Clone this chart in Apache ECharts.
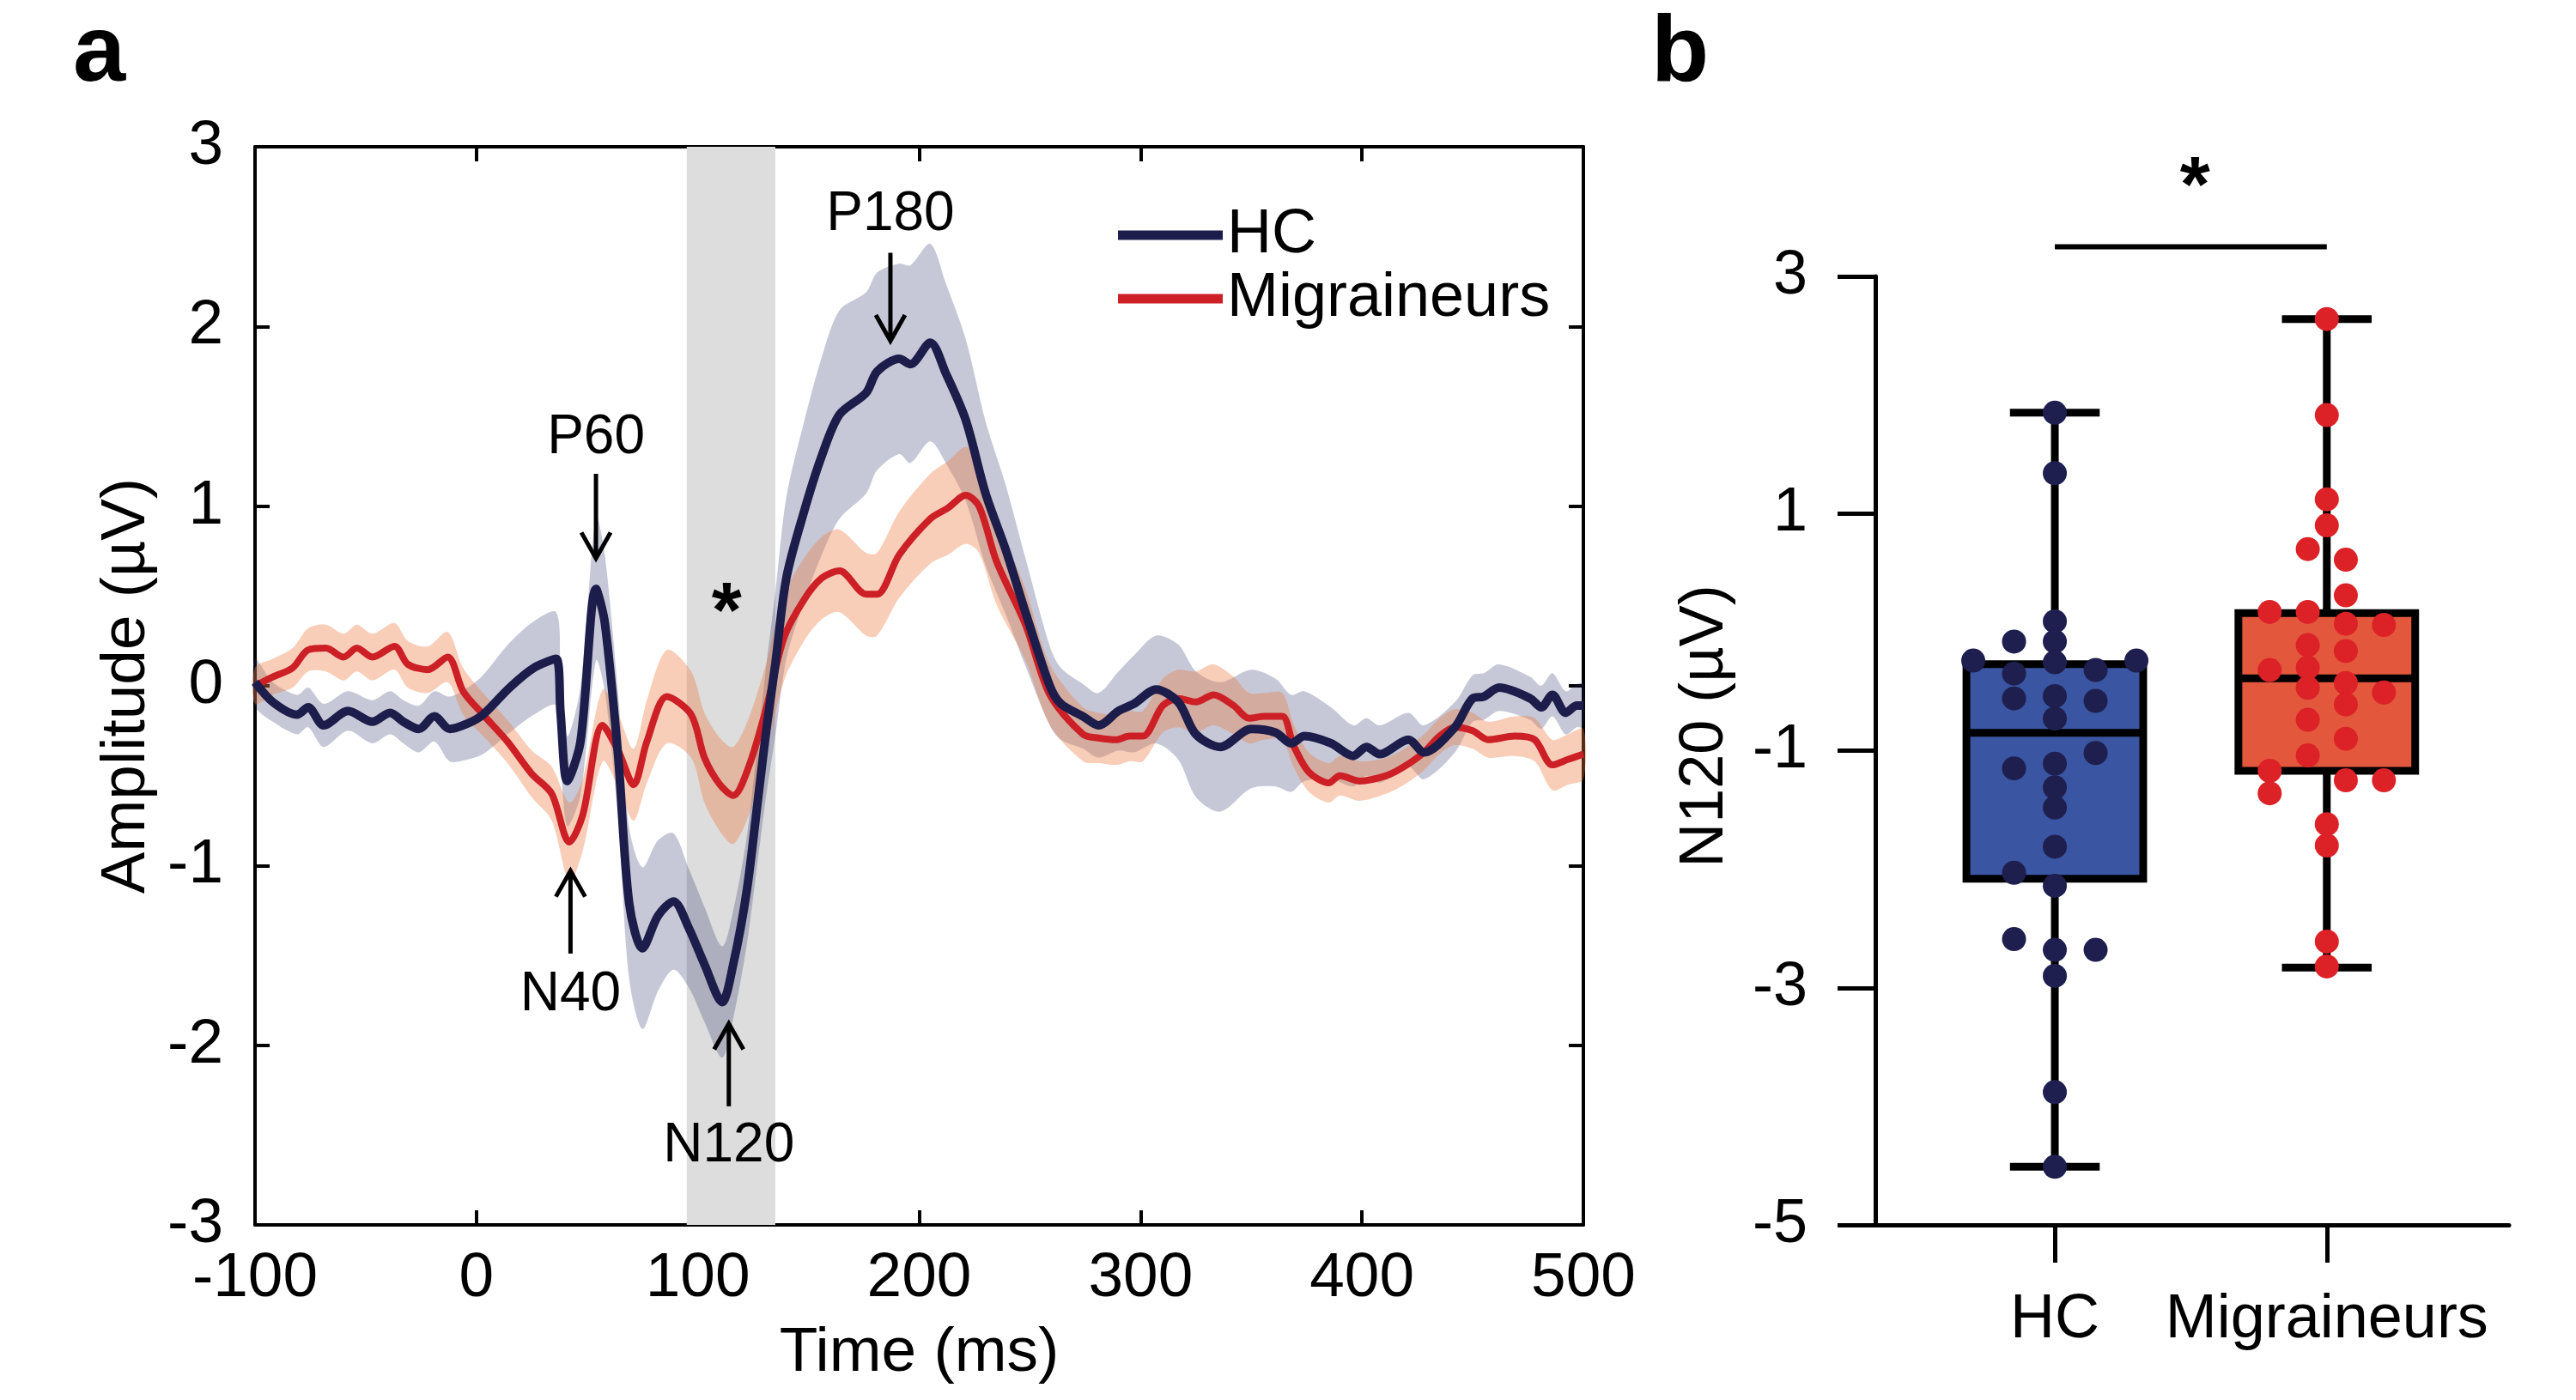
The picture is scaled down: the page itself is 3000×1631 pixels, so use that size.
<!DOCTYPE html>
<html>
<head>
    <meta charset="UTF-8">
    <title>N120 HC vs Migraineurs</title>
    <script src="https://cdn.jsdelivr.net/npm/echarts@6.0.0/dist/echarts.min.js"></script>
    <style>
        html, body { margin: 0; padding: 0; background: #fff; }
        #chart { width: 3000px; height: 1631px; }
    </style>
</head>
<body>
<div id="chart"></div>
<script>
    // ---- panel a: grand average waveforms (ms, µV) ----
    var hcTime = [-100, -92, -81, -76, -69, -58, -47, -39, -33, -26, -19, -12, -4, 3, 15, 26, 36, 38, 41, 47,
        54, 58, 64, 69, 75, 82, 89, 96, 103, 111, 116, 122, 127, 131, 135, 140, 148, 156, 164, 176,
        181, 191, 196, 205, 212, 221, 230, 239, 248, 259, 264, 274, 281, 290, 297, 307, 317, 325, 336, 350,
        361, 368, 374, 386, 396, 402, 408, 421, 428, 442, 450, 455, 462, 476, 481, 486, 492, 497, 500];
    var hcMean = [0.02, -0.09, -0.16, -0.12, -0.22, -0.14, -0.2, -0.15, -0.2, -0.24, -0.17, -0.24, -0.21, -0.16, -0.01, 0.1, 0.15, -0.15, -0.53, -0.31,
        0.54, 0.35, -0.39, -1.21, -1.46, -1.28, -1.2, -1.35, -1.55, -1.76, -1.55, -1.15, -0.65, -0.24, 0.12, 0.6, 0.97, 1.28, 1.51, 1.63,
        1.75, 1.82, 1.79, 1.91, 1.74, 1.48, 1.07, 0.76, 0.41, 0.0, -0.1, -0.17, -0.22, -0.14, -0.1, -0.02, -0.09, -0.27, -0.34, -0.24,
        -0.26, -0.32, -0.28, -0.32, -0.39, -0.34, -0.38, -0.3, -0.37, -0.23, -0.07, -0.06, -0.01, -0.07, -0.12, -0.05, -0.15, -0.11, -0.11];
    var hcErr = [0.13, 0.11, 0.11, 0.11, 0.12, 0.11, 0.12, 0.12, 0.12, 0.13, 0.14, 0.18, 0.2, 0.22, 0.25, 0.26, 0.26, 0.26, 0.25, 0.3,
        0.4, 0.38, 0.35, 0.42, 0.45, 0.42, 0.38, 0.33, 0.32, 0.31, 0.3, 0.3, 0.33, 0.36, 0.4, 0.45, 0.5, 0.55, 0.58, 0.56,
        0.55, 0.53, 0.55, 0.55, 0.5, 0.45, 0.4, 0.36, 0.3, 0.22, 0.2, 0.18, 0.18, 0.22, 0.27, 0.3, 0.32, 0.35, 0.36, 0.33,
        0.3, 0.27, 0.25, 0.2, 0.17, 0.16, 0.16, 0.15, 0.15, 0.14, 0.13, 0.13, 0.13, 0.12, 0.12, 0.12, 0.12, 0.12, 0.12];

    var migTime = [-100, -92, -83, -76, -68, -60, -54, -47, -37, -31, -22, -13, -6, 3, 14, 25, 34, 42, 48, 57,
        64, 71, 77, 86, 97, 103, 110, 116, 123, 131, 139, 148, 156, 164, 176, 181, 191, 205, 213, 221,
        227, 235, 248, 259, 274, 281, 289, 295, 301, 310, 317, 325, 333, 342, 349, 356, 364, 369, 376, 385,
        390, 399, 411, 419, 428, 435, 442, 450, 457, 469, 478, 486, 493, 500];
    var migMean = [0.0, 0.05, 0.1, 0.2, 0.21, 0.16, 0.21, 0.16, 0.22, 0.12, 0.09, 0.16, -0.03, -0.16, -0.31, -0.49, -0.6, -0.87, -0.72, -0.22,
        -0.36, -0.55, -0.31, -0.06, -0.16, -0.4, -0.55, -0.61, -0.45, -0.12, 0.27, 0.48, 0.6, 0.64, 0.51, 0.51, 0.73, 0.93, 0.99, 1.06,
        1.0, 0.69, 0.34, -0.05, -0.27, -0.29, -0.3, -0.28, -0.28, -0.11, -0.07, -0.09, -0.05, -0.11, -0.18, -0.17, -0.17, -0.33, -0.48, -0.54,
        -0.5, -0.53, -0.5, -0.45, -0.37, -0.28, -0.23, -0.25, -0.3, -0.28, -0.3, -0.44, -0.41, -0.38];
    var migErr = [0.1, 0.1, 0.11, 0.12, 0.13, 0.13, 0.13, 0.13, 0.13, 0.13, 0.13, 0.14, 0.13, 0.12, 0.12, 0.13, 0.15, 0.22, 0.2, 0.2,
        0.2, 0.2, 0.23, 0.26, 0.24, 0.25, 0.26, 0.27, 0.27, 0.25, 0.24, 0.23, 0.23, 0.23, 0.23, 0.23, 0.24, 0.25, 0.26, 0.27,
        0.26, 0.24, 0.2, 0.17, 0.15, 0.14, 0.14, 0.14, 0.14, 0.15, 0.16, 0.17, 0.17, 0.16, 0.14, 0.13, 0.13, 0.12, 0.11, 0.11,
        0.11, 0.11, 0.1, 0.1, 0.1, 0.1, 0.1, 0.1, 0.1, 0.11, 0.12, 0.14, 0.14, 0.14];

    var sigWindow = [95, 135];          // shaded N120 window (ms)
    var ampRange = [-3, 3];

    // peak labels with their arrows
    var noteLabels = ['P60', 'N40', 'N120', 'P180'];
    var noteTime = [54, 42.5, 114, 187];
    var noteTextY = [1.38, -1.72, -2.56, 2.62];
    var arrowFrom = [1.18, -1.49, -2.34, 2.41];
    var arrowTo = [0.71, -1.03, -1.88, 1.92];
    var starA = [113, 0.48];

    // ---- panel b: N120 amplitude per subject (µV) ----
    var groups = ['HC', 'Migraineurs'];
    var bTicks = [-5, -3, -1, 1, 3];
    // min, Q1, median, Q3, max
    var hcBox = [-4.51, -2.08, -0.85, -0.27, 1.85];
    var migBox = [-2.83, -1.17, -0.39, 0.16, 2.64];
    var hcDots = [1.85, 1.34, 0.09, -0.08, -0.08, -0.24, -0.24, -0.255, -0.35, -0.32,
        -0.56, -0.54, -0.58, -0.73, -1.02, -1.11, -1.15, -1.31, -1.48, -1.81,
        -2.03, -2.14, -2.59, -2.68, -2.68, -2.9, -3.88, -4.51];
    var hcJitter = [0, 0, 0, -0.15, 0, -0.3, 0.3, 0, -0.15, 0.15,
        -0.15, 0, 0.15, 0, 0.15, 0, -0.15, 0, 0, 0,
        -0.15, 0, -0.15, 0, 0.15, 0, 0, 0];
    var migDots = [2.64, 1.83, 1.12, 0.9, 0.7, 0.61, 0.31, 0.17, 0.17, 0.07,
        0.06, -0.11, -0.16, -0.32, -0.3, -0.47, -0.43, -0.51, -0.61, -0.74,
        -0.9, -1.04, -1.17, -1.25, -1.25, -1.36, -1.62, -1.8, -2.61, -2.82];
    var migJitter = [0, 0, 0, 0, -0.07, 0.07, 0.07, -0.21, -0.07, 0.07,
        0.21, -0.07, 0.07, -0.21, -0.07, -0.07, 0.07, 0.21, 0.07, -0.07,
        0.07, -0.07, -0.21, 0.07, 0.21, -0.21, 0, 0, 0, 0];
    var sigBar = [1, 2, 3.25];          // from group, to group, height
    var starB = [1.515, 3.87];

    var FONT = '"Liberation Sans", Arial, Helvetica, sans-serif';
    var NAVY = '#1c1d4a';
    var RED = '#cc1f26';
    var boxFill = ['#3a55a1', '#e3583d'];

    function zip() {
        var arrs = arguments;
        return arrs[0].map(function (_, i) {
            return Array.prototype.map.call(arrs, function (a) { return a[i]; });
        });
    }

    function bandRows(t, m, e) {
        return zip(t, m.map(function (v, i) { return v - e[i]; }), m.map(function (v, i) { return v + e[i]; }));
    }

    function bandRenderer(rows, fill) {
        return function (params, api) {
            if (params.dataIndex !== 0) return;
            var upper = rows.map(function (r) { return api.coord([r[0], r[2]]); });
            var lower = rows.map(function (r) { return api.coord([r[0], r[1]]); }).reverse();
            return {type: 'polygon', shape: {points: upper.concat(lower), smooth: 0.3}, style: {fill: fill}};
        };
    }

    function windowRenderer(params, api) {
        var p0 = api.coord([api.value(0), ampRange[1]]);
        var p1 = api.coord([api.value(1), ampRange[0]]);
        return {type: 'rect', shape: {x: p0[0], y: p0[1], width: p1[0] - p0[0], height: p1[1] - p0[1]},
            style: {fill: '#dddddd'}};
    }

    function noteRenderer(params, api) {
        var i = params.dataIndex;
        var t = noteTime[i];
        var txt = api.coord([t, noteTextY[i]]);
        var a0 = api.coord([t, arrowFrom[i]]);
        var a1 = api.coord([t, arrowTo[i]]);
        var dir = a1[1] > a0[1] ? 1 : -1;
        return {
            type: 'group', children: [
                {type: 'text', x: txt[0], y: txt[1],
                    style: {text: noteLabels[i], font: '64px ' + FONT, fill: '#000', align: 'center', verticalAlign: 'middle'}},
                {type: 'line', shape: {x1: a0[0], y1: a0[1], x2: a1[0], y2: a1[1]},
                    style: {stroke: '#000', lineWidth: 5}},
                {type: 'polyline', shape: {points: [[a1[0] - 17, a1[1] - dir * 30], [a1[0], a1[1]], [a1[0] + 17, a1[1] - dir * 30]]},
                    style: {stroke: '#000', lineWidth: 5, fill: null}}
            ]
        };
    }

    function starRenderer(params, api) {
        var p = api.coord([api.value(0), api.value(1)]);
        return {type: 'text', x: p[0], y: p[1] + 19,
            style: {text: '*', font: 'bold 90px ' + FONT, fill: '#000', align: 'center', verticalAlign: 'middle'}};
    }

    function boxRenderer(params, api) {
        var x = api.value(0);
        var lo = api.coord([x, api.value(1)]);
        var q1 = api.coord([x, api.value(2)]);
        var md = api.coord([x, api.value(3)]);
        var q3 = api.coord([x, api.value(4)]);
        var hi = api.coord([x, api.value(5)]);
        var hb = api.size([0.65, 0])[0] / 2;
        var hc = api.size([0.33, 0])[0] / 2;
        var st = {stroke: '#000', lineWidth: 9};
        return {
            type: 'group', children: [
                {type: 'line', shape: {x1: lo[0], y1: lo[1], x2: hi[0], y2: hi[1]}, style: st},
                {type: 'rect', shape: {x: q3[0] - hb, y: q3[1], width: 2 * hb, height: q1[1] - q3[1]},
                    style: {fill: boxFill[params.dataIndex], stroke: '#000', lineWidth: 9}},
                {type: 'line', shape: {x1: md[0] - hb, y1: md[1], x2: md[0] + hb, y2: md[1]}, style: st},
                {type: 'line', shape: {x1: hi[0] - hc, y1: hi[1], x2: hi[0] + hc, y2: hi[1]}, style: st},
                {type: 'line', shape: {x1: lo[0] - hc, y1: lo[1], x2: lo[0] + hc, y2: lo[1]}, style: st}
            ]
        };
    }

    function sigRenderer(params, api) {
        var p0 = api.coord([sigBar[0], sigBar[2]]);
        var p1 = api.coord([sigBar[1], sigBar[2]]);
        var s = api.coord(starB);
        return {
            type: 'group', children: [
                {type: 'line', shape: {x1: p0[0], y1: p0[1], x2: p1[0], y2: p1[1]}, style: {stroke: '#000', lineWidth: 6}},
                {type: 'text', x: s[0], y: s[1] + 19,
                    style: {text: '*', font: 'bold 90px ' + FONT, fill: '#000', align: 'center', verticalAlign: 'middle'}}
            ]
        };
    }

    var hcBand = bandRows(hcTime, hcMean, hcErr);
    var migBand = bandRows(migTime, migMean, migErr);

    var axisA = {
        axisLine: {onZero: false, lineStyle: {color: '#000', width: 4}},
        axisTick: {inside: true, length: 17, lineStyle: {color: '#000', width: 4}},
        splitLine: {show: false}
    };

    var option = {
        animation: false,
        textStyle: {fontFamily: FONT, color: '#000'},
        grid: [
            {left: 297, top: 171, width: 1547, height: 1256},
            {left: 2184, top: 322, width: 738, height: 1105}
        ],
        legend: {
            data: ['HC', 'Migraineurs'], orient: 'vertical', left: 1297, top: 232,
            icon: 'rect', itemWidth: 122, itemHeight: 11, itemGap: 0, selectedMode: false,
            lineStyle: {width: 11},
            textStyle: {fontSize: 72, lineHeight: 74, color: '#000', fontFamily: FONT}
        },
        xAxis: [
            Object.assign({}, axisA, {
                gridIndex: 0, type: 'value', min: -100, max: 500, interval: 100, position: 'bottom',
                axisLabel: {fontSize: 73, color: '#000', margin: 26, fontFamily: FONT},
                name: 'Time (ms)', nameLocation: 'middle', nameGap: 113,
                nameTextStyle: {fontSize: 73, color: '#000', fontFamily: FONT}
            }),
            Object.assign({}, axisA, {
                gridIndex: 0, type: 'value', min: -100, max: 500, interval: 100, position: 'top',
                axisLabel: {show: false}
            }),
            {
                gridIndex: 1, type: 'value', min: 0.34, max: 2.67, position: 'bottom',
                axisLine: {onZero: false, lineStyle: {color: '#000', width: 5}},
                axisTick: {customValues: [1, 2], length: 44, lineStyle: {color: '#000', width: 5}},
                axisLabel: {customValues: [1, 2], fontSize: 72, color: '#000', margin: 75, fontFamily: FONT,
                    formatter: function (v) { return groups[Math.round(v) - 1]; }},
                splitLine: {show: false}
            }
        ],
        yAxis: [
            Object.assign({}, axisA, {
                gridIndex: 0, type: 'value', min: ampRange[0], max: ampRange[1], interval: 1, position: 'left',
                axisLabel: {fontSize: 73, color: '#000', margin: 37, fontFamily: FONT},
                name: 'Amplitude (µV)', nameLocation: 'middle', nameGap: 113,
                nameTextStyle: {fontSize: 73, color: '#000', fontFamily: FONT}
            }),
            Object.assign({}, axisA, {
                gridIndex: 0, type: 'value', min: ampRange[0], max: ampRange[1], interval: 1, position: 'right',
                axisLabel: {show: false}
            }),
            {
                gridIndex: 1, type: 'value', min: -5, max: 3, position: 'left',
                axisLine: {onZero: false, lineStyle: {color: '#000', width: 5}},
                axisTick: {customValues: bTicks, length: 44, lineStyle: {color: '#000', width: 5}},
                axisLabel: {customValues: bTicks, fontSize: 72, color: '#000', margin: 79, fontFamily: FONT},
                splitLine: {show: false}
            }
        ],
        graphic: [
            {type: 'text', x: 85, y: 64, style: {text: 'a', font: 'bold 110px ' + FONT, fill: '#000', align: 'left', verticalAlign: 'middle'}},
            {type: 'text', x: 1923, y: 64, style: {text: 'b', font: 'bold 110px ' + FONT, fill: '#000', align: 'left', verticalAlign: 'middle'}},
            {type: 'text', x: 1986, y: 846, rotation: Math.PI / 2,
                style: {text: 'N120 (µV)', font: '72px ' + FONT, fill: '#000', align: 'center', verticalAlign: 'middle'}}
        ],
        series: [
            {type: 'custom', name: 'window', xAxisIndex: 0, yAxisIndex: 0, z: 1, silent: true,
                data: [sigWindow], renderItem: windowRenderer},
            {type: 'custom', name: 'HC band', xAxisIndex: 0, yAxisIndex: 0, z: 2, silent: true,
                data: hcBand, renderItem: bandRenderer(hcBand, 'rgba(40, 42, 100, 0.26)')},
            {type: 'custom', name: 'Migraineurs band', xAxisIndex: 0, yAxisIndex: 0, z: 2, silent: true,
                data: migBand, renderItem: bandRenderer(migBand, 'rgba(236, 120, 60, 0.36)')},
            {type: 'line', name: 'Migraineurs', xAxisIndex: 0, yAxisIndex: 0, z: 3, silent: true,
                data: zip(migTime, migMean), symbol: 'none', smooth: 0.3,
                lineStyle: {color: RED, width: 8}, itemStyle: {color: RED}},
            {type: 'line', name: 'HC', xAxisIndex: 0, yAxisIndex: 0, z: 4, silent: true,
                data: zip(hcTime, hcMean), symbol: 'none', smooth: 0.3,
                lineStyle: {color: NAVY, width: 10}, itemStyle: {color: NAVY}},
            {type: 'custom', name: 'notes', xAxisIndex: 0, yAxisIndex: 0, z: 5, silent: true,
                data: zip(noteTime, noteTextY), renderItem: noteRenderer},
            {type: 'custom', name: 'star a', xAxisIndex: 0, yAxisIndex: 0, z: 5, silent: true,
                data: [starA], renderItem: starRenderer},

            {type: 'custom', name: 'boxes', xAxisIndex: 2, yAxisIndex: 2, z: 2, silent: true,
                data: [[1].concat(hcBox), [2].concat(migBox)], renderItem: boxRenderer},
            {type: 'scatter', name: 'HC points', xAxisIndex: 2, yAxisIndex: 2, z: 5, silent: true,
                data: zip(hcDots.map(function (v, i) { return 1 + hcJitter[i]; }), hcDots),
                symbolSize: 28, itemStyle: {color: '#1e1f4f', opacity: 1}},
            {type: 'scatter', name: 'Migraineurs points', xAxisIndex: 2, yAxisIndex: 2, z: 5, silent: true,
                data: zip(migDots.map(function (v, i) { return 2 + migJitter[i]; }), migDots),
                symbolSize: 28, itemStyle: {color: '#dc2127', opacity: 1}},
            {type: 'custom', name: 'significance', xAxisIndex: 2, yAxisIndex: 2, z: 5, silent: true,
                data: [sigBar], renderItem: sigRenderer}
        ]
    };

    var chart = echarts.init(document.getElementById('chart'));
    chart.setOption(option);
</script>
</body>
</html>
